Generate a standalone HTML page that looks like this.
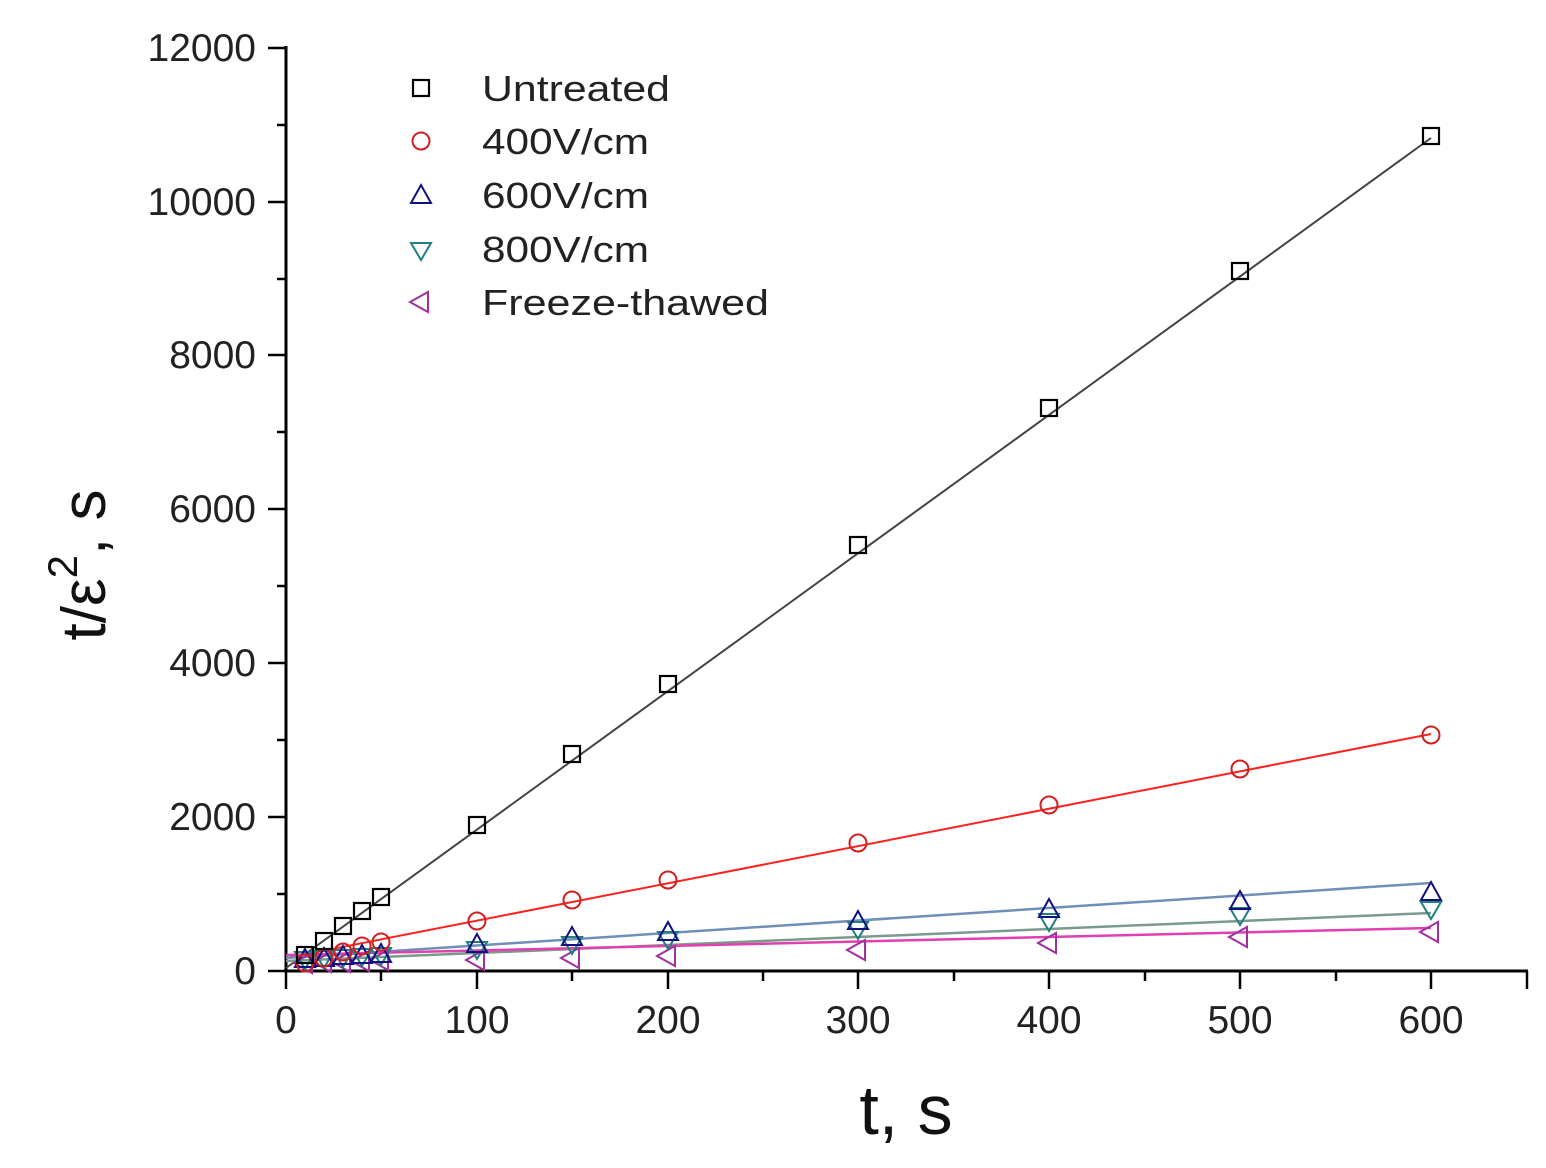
<!DOCTYPE html>
<html><head><meta charset="utf-8"><style>html,body{margin:0;padding:0;background:#fff}svg{display:block}</style></head>
<body>
<svg width="1546" height="1168" viewBox="0 0 1546 1168" xmlns="http://www.w3.org/2000/svg" font-family="Liberation Sans, Arial, sans-serif">
<rect width="1546" height="1168" fill="#fff"/>
<g stroke="#000" stroke-width="3" fill="none">
<line x1="286" y1="46" x2="286" y2="972"/>
<line x1="284" y1="971" x2="1528" y2="971"/>
</g>
<g stroke="#000" stroke-width="2.5">
<line x1="268" y1="48" x2="286" y2="48"/><line x1="268" y1="202" x2="286" y2="202"/><line x1="268" y1="355" x2="286" y2="355"/><line x1="268" y1="509" x2="286" y2="509"/><line x1="268" y1="663" x2="286" y2="663"/><line x1="268" y1="817" x2="286" y2="817"/><line x1="268" y1="971" x2="286" y2="971"/>
<line x1="277" y1="125" x2="286" y2="125"/><line x1="277" y1="279" x2="286" y2="279"/><line x1="277" y1="432" x2="286" y2="432"/><line x1="277" y1="586" x2="286" y2="586"/><line x1="277" y1="740" x2="286" y2="740"/><line x1="277" y1="894" x2="286" y2="894"/>
<line x1="286" y1="971" x2="286" y2="989"/><line x1="477" y1="971" x2="477" y2="989"/><line x1="668" y1="971" x2="668" y2="989"/><line x1="858" y1="971" x2="858" y2="989"/><line x1="1049" y1="971" x2="1049" y2="989"/><line x1="1240" y1="971" x2="1240" y2="989"/><line x1="1431" y1="971" x2="1431" y2="989"/>
<line x1="381" y1="971" x2="381" y2="981"/><line x1="572" y1="971" x2="572" y2="981"/><line x1="763" y1="971" x2="763" y2="981"/><line x1="954" y1="971" x2="954" y2="981"/><line x1="1145" y1="971" x2="1145" y2="981"/><line x1="1336" y1="971" x2="1336" y2="981"/><line x1="1527" y1="971" x2="1527" y2="989"/>
</g>
<g font-size="39" fill="#222" text-anchor="end">
<text x="256" y="61">12000</text><text x="256" y="215">10000</text><text x="256" y="368">8000</text><text x="256" y="522">6000</text><text x="256" y="676">4000</text><text x="256" y="830">2000</text><text x="256" y="984">0</text>
</g>
<g font-size="39" fill="#222" text-anchor="middle">
<text x="286" y="1033">0</text><text x="477" y="1033">100</text><text x="668" y="1033">200</text><text x="858" y="1033">300</text><text x="1049" y="1033">400</text><text x="1240" y="1033">500</text><text x="1431" y="1033">600</text>
</g>
<text x="906" y="1134" font-size="70" text-anchor="middle" fill="#111">t, s</text>
<text transform="translate(105,565) rotate(-90)" font-size="62" text-anchor="middle" fill="#111">t/ε<tspan dy="-28" font-size="42">2</tspan><tspan dy="28">, s</tspan></text>
<line x1="286" y1="968" x2="1431" y2="138" stroke="#444" stroke-width="2"/>
<line x1="286" y1="958" x2="1431" y2="734" stroke="#ff2020" stroke-width="2"/>
<line x1="286" y1="958" x2="1431" y2="883" stroke="#6f8fb8" stroke-width="2.5"/>
<line x1="286" y1="961" x2="1431" y2="913" stroke="#7a9a8a" stroke-width="2.5"/>
<line x1="286" y1="955" x2="1431" y2="928" stroke="#e040b0" stroke-width="2.5"/>
<defs>
<rect id="sq" x="-8" y="-8" width="16" height="16" fill="none" stroke="#000" stroke-width="2.2"/>
<circle id="ci" r="8.5" fill="none" stroke="#d02020" stroke-width="2"/>
<path id="tu" d="M0,-11 L-10,7 L10,7 Z" fill="none" stroke="#101080" stroke-width="2"/>
<path id="td" d="M0,9 L-10,-8 L10,-8 Z" fill="none" stroke="#208080" stroke-width="2"/>
<path id="tl" d="M-11,0 L7,-10 L7,10 Z" fill="none" stroke="#a030a0" stroke-width="2"/>
</defs>
<g>
<use href="#tl" x="305" y="963"/><use href="#tl" x="324" y="962"/><use href="#tl" x="343" y="962"/><use href="#tl" x="362" y="961"/><use href="#tl" x="381" y="960"/><use href="#tl" x="477" y="960"/><use href="#tl" x="572" y="958"/><use href="#tl" x="668" y="956"/><use href="#tl" x="858" y="950"/><use href="#tl" x="1049" y="943"/><use href="#tl" x="1240" y="937"/><use href="#tl" x="1431" y="932"/>
<use href="#td" x="305" y="960"/><use href="#td" x="324" y="959"/><use href="#td" x="343" y="958"/><use href="#td" x="362" y="957"/><use href="#td" x="381" y="956"/><use href="#td" x="477" y="950"/><use href="#td" x="572" y="945"/><use href="#td" x="668" y="940"/><use href="#td" x="858" y="930"/><use href="#td" x="1049" y="922"/><use href="#td" x="1240" y="916"/><use href="#td" x="1431" y="910"/>
<use href="#tu" x="305" y="960"/><use href="#tu" x="324" y="959"/><use href="#tu" x="343" y="957"/><use href="#tu" x="362" y="956"/><use href="#tu" x="381" y="955"/><use href="#tu" x="477" y="945"/><use href="#tu" x="572" y="938"/><use href="#tu" x="668" y="933"/><use href="#tu" x="858" y="922"/><use href="#tu" x="1049" y="910"/><use href="#tu" x="1240" y="902"/><use href="#tu" x="1431" y="893"/>
<use href="#ci" x="305" y="963"/><use href="#ci" x="324" y="958"/><use href="#ci" x="343" y="952"/><use href="#ci" x="362" y="946"/><use href="#ci" x="381" y="942"/><use href="#ci" x="477" y="921"/><use href="#ci" x="572" y="900"/><use href="#ci" x="668" y="880"/><use href="#ci" x="858" y="843"/><use href="#ci" x="1049" y="805"/><use href="#ci" x="1240" y="769"/><use href="#ci" x="1431" y="735"/>
<use href="#sq" x="305" y="955"/><use href="#sq" x="324" y="941"/><use href="#sq" x="343" y="926"/><use href="#sq" x="362" y="911"/><use href="#sq" x="381" y="897"/><use href="#sq" x="477" y="825"/><use href="#sq" x="572" y="754"/><use href="#sq" x="668" y="684"/><use href="#sq" x="858" y="545"/><use href="#sq" x="1049" y="408"/><use href="#sq" x="1240" y="271"/><use href="#sq" x="1431" y="136"/>
</g>
<use href="#sq" x="421" y="88"/>
<use href="#ci" x="421" y="141"/>
<use href="#tu" x="421" y="196"/>
<use href="#td" x="421" y="251"/>
<use href="#tl" x="421" y="302"/>
<g font-size="36" fill="#222">
<text x="482" y="101" textLength="188" lengthAdjust="spacingAndGlyphs">Untreated</text>
<text x="482" y="154" textLength="167" lengthAdjust="spacingAndGlyphs">400V/cm</text>
<text x="482" y="208" textLength="167" lengthAdjust="spacingAndGlyphs">600V/cm</text>
<text x="482" y="262" textLength="167" lengthAdjust="spacingAndGlyphs">800V/cm</text>
<text x="482" y="315" textLength="287" lengthAdjust="spacingAndGlyphs">Freeze-thawed</text>
</g>
</svg>
</body></html>
